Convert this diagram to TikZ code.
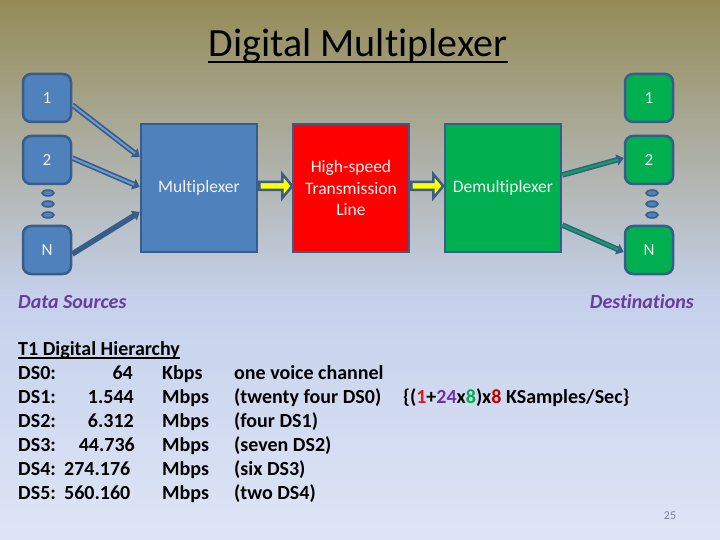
\documentclass[tikz,border=0pt]{standalone}
\usepackage{fontspec}
\setmainfont{Carlito}[Ligatures=NoCommon]
\usetikzlibrary{calc,arrows.meta,shapes.geometric}
\definecolor{bgtop}{RGB}{148,139,86}
\definecolor{bgmid}{RGB}{197,209,236}
\definecolor{bgbot}{RGB}{222,229,245}
\definecolor{bfill}{RGB}{79,129,189}
\definecolor{bline}{RGB}{56,93,138}
\definecolor{blight}{RGB}{110,155,210}
\definecolor{gfill}{RGB}{0,176,80}
\definecolor{rfill}{RGB}{255,0,0}
\definecolor{ytip}{RGB}{255,255,0}
\definecolor{purp}{RGB}{106,58,156}
\definecolor{cred}{RGB}{230,20,30}
\definecolor{cpurp}{RGB}{112,48,160}
\definecolor{cgreen}{RGB}{0,176,80}
\definecolor{cdred}{RGB}{192,0,0}
\definecolor{numgray}{RGB}{120,130,150}
\definecolor{boxtext}{RGB}{242,242,242}
\pgfdeclareverticalshading{slidebg}{100bp}{color(0bp)=(bgbot); color(25bp)=(bgbot); color(47.5bp)=(bgmid); color(75bp)=(bgtop); color(100bp)=(bgtop)}
\tikzset{
  smallbox/.style={draw=bline, line width=2.5pt, rounded corners=8pt, minimum width=48pt, minimum height=48pt, inner sep=0pt, text=boxtext, font=\fontsize{17}{20}\selectfont},
  bigbox/.style={draw=bline, line width=2.5pt, minimum width=116pt, minimum height=128pt, inner sep=0pt, text=boxtext, align=center, font=\fontsize{17.5}{21.5}\selectfont},
  yarrow/.style={fill=ytip, draw=bline, line width=2.5pt, line join=miter},
  outer/.style={line width=5.5pt, bline, -{Triangle[length=7pt,width=11pt]}},
  innerb/.style={line width=2pt, blight, shorten >=6pt},
  innerg/.style={line width=2pt, gfill, shorten >=6pt},
  dot/.style={draw=bline, line width=1.5pt, fill=bfill},
  tab/.style={font=\fontsize{20}{24}\selectfont\bfseries, inner sep=0pt},
  lab/.style={font=\fontsize{20}{24}\selectfont\bfseries\itshape, text=purp, inner sep=0pt}
}
\begin{document}
\begin{tikzpicture}[x=1pt,y=-1pt]
\useasboundingbox (0,0) rectangle (720,540);
\shade[shading=slidebg] (0,0) rectangle (720,540);
% title
\node[inner sep=0pt, anchor=base, font=\fontsize{40}{46}\selectfont] (title) at (358,57) {Digital Multiplexer};
\draw[line width=2.2pt] ([yshift=-5pt]title.base west) -- ([yshift=-5pt]title.base east);
% sources
\node[smallbox, fill=bfill] (s1) at (47,98) {1};
\node[smallbox, fill=bfill] (s2) at (47,160) {2};
\node[smallbox, fill=bfill] (sN) at (47,250) {N};
\foreach \yy in {193,204,215} \draw[dot] (48,\yy) ellipse (6pt and 3pt);
% destinations
\node[smallbox, fill=gfill] (d1) at (649,98) {1};
\node[smallbox, fill=gfill] (d2) at (649,160) {2};
\node[smallbox, fill=gfill] (dN) at (649,250) {N};
\foreach \yy in {193,204,215} \draw[dot] (652,\yy) ellipse (6pt and 3pt);
% main blocks
\node[bigbox, fill=bfill] (mux) at (199,188) {Multiplexer};
\node[bigbox, fill=rfill] (line) at (351,188) {High-speed\\Transmission\\Line};
\node[bigbox, fill=gfill] (demux) at (503,188) {Demultiplexer};
% yellow arrows
\draw[yarrow] (mux.east) ++(1,-6) -- ++(23,0) -- ++(0,-8) -- ++(10,12) -- ++(-10,12) -- ++(0,-8) -- ++(-23,0) -- cycle;
\draw[yarrow] (line.east) ++(1,-6) -- ++(22,0) -- ++(0,-8) -- ++(10,12) -- ++(-10,12) -- ++(0,-8) -- ++(-22,0) -- cycle;
% input arrows
\draw[outer] ([yshift=-7pt]s1.east) -- ([yshift=31pt]mux.west);
\draw[innerb] ([yshift=-7pt]s1.east) -- ([yshift=31pt]mux.west);
\draw[outer] ([yshift=2pt]s2.east) -- ([yshift=1pt]mux.west);
\draw[innerb] ([yshift=2pt]s2.east) -- ([yshift=1pt]mux.west);
\draw[outer] ([yshift=-4pt]sN.east) -- ([yshift=-24pt]mux.west);
% output arrows
\draw[outer] ([yshift=13pt]demux.east) -- ([yshift=2pt]d2.west);
\draw[innerg] ([yshift=13pt]demux.east) -- ([yshift=2pt]d2.west);
\draw[outer] ([yshift=-37pt]demux.east) -- ([yshift=-2pt]dN.west);
\draw[innerg] ([yshift=-37pt]demux.east) -- ([yshift=-2pt]dN.west);
% labels
\node[lab, anchor=base west] (srcl) at (18,308) {Data Sources};
\node[lab, anchor=base east] (dstl) at (694,308) {Destinations};
% table
\node[tab, anchor=base west] (hdr) at (18,355) {T1 Digital Hierarchy};
\draw[line width=1.3pt] ([yshift=-3pt]hdr.base west) -- ([yshift=-3pt]hdr.base east);
\node[tab, anchor=base west] (r0a) at (18,379) {DS0:};
\node[tab, anchor=base west] (r1a) at (18,403) {DS1:};
\node[tab, anchor=base west] (r2a) at (18,427) {DS2:};
\node[tab, anchor=base west] (r3a) at (18,451) {DS3:};
\node[tab, anchor=base west] (r4a) at (18,475) {DS4:};
\node[tab, anchor=base west] (r5a) at (18,499) {DS5:};
\node[tab, anchor=base east] (r0b) at (133,379) {64};
\node[tab, anchor=base east] (r1b) at (134,403) {1.544};
\node[tab, anchor=base east] (r2b) at (134,427) {6.312};
\node[tab, anchor=base east] (r3b) at (135,451) {44.736};
\node[tab, anchor=base west] (r4b) at (64,475) {274.176};
\node[tab, anchor=base west] (r5b) at (64,499) {560.160};
\node[tab, anchor=base west] (r0c) at (162,379) {Kbps};
\node[tab, anchor=base west] (r1c) at (162,403) {Mbps};
\node[tab, anchor=base west] (r2c) at (162,427) {Mbps};
\node[tab, anchor=base west] (r3c) at (162,451) {Mbps};
\node[tab, anchor=base west] (r4c) at (162,475) {Mbps};
\node[tab, anchor=base west] (r5c) at (162,499) {Mbps};
\node[tab, anchor=base west] (r0d) at (234,379) {one voice channel};
\node[tab, anchor=base west] (r1d) at (234,403) {(twenty four DS0)};
\node[tab, anchor=base west] (r1e) at (403,403) {\{(\textcolor{cred}{1}+\textcolor{cpurp}{24}x\textcolor{cgreen}{8})x\textcolor{cdred}{8} KSamples/Sec\}};
\node[tab, anchor=base west] (r2d) at (234,427) {(four DS1)};
\node[tab, anchor=base west] (r3d) at (234,451) {(seven DS2)};
\node[tab, anchor=base west] (r4d) at (234,475) {(six DS3)};
\node[tab, anchor=base west] (r5d) at (234,499) {(two DS4)};
% page number
\node[inner sep=0pt, anchor=base, text=numgray, font=\fontsize{12}{14}\selectfont] (pg) at (670,519) {25};
\end{tikzpicture}
\end{document}
